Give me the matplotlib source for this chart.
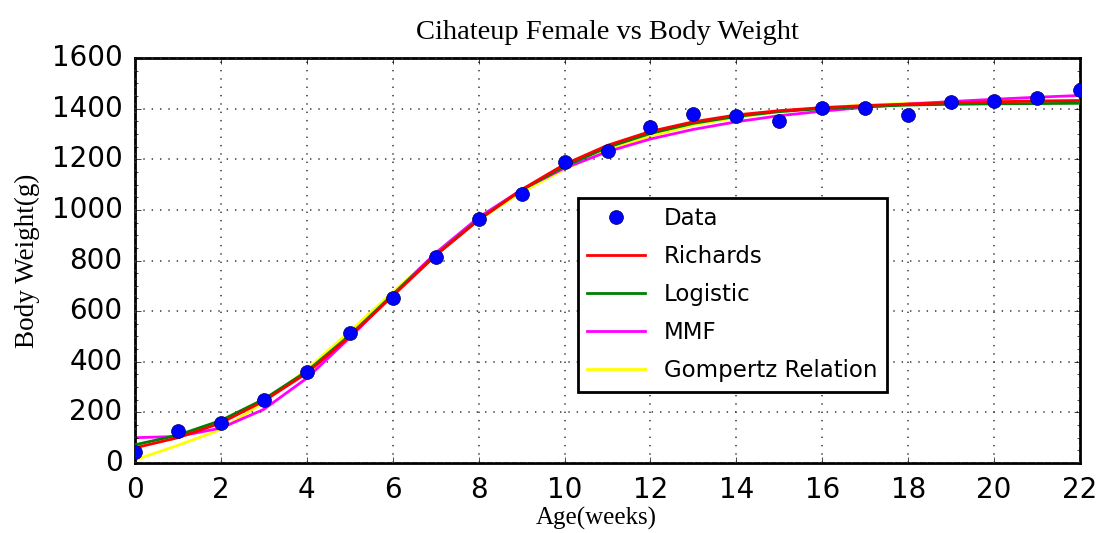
import matplotlib
matplotlib.use('Agg')
import matplotlib.pyplot as plt
from matplotlib.ticker import MultipleLocator

plt.style.use('classic')

# Data
weeks = list(range(0, 23))
weight = [45, 125, 158, 248, 358, 512, 650, 812, 962, 1062, 1188, 1232,
          1328, 1380, 1372, 1350, 1402, 1402, 1375, 1428, 1432, 1442, 1475]

# fitted curves, read at each week
richards = [60, 100, 158, 245, 355, 500, 660, 820, 960, 1080, 1180, 1255,
            1310, 1348, 1375, 1392, 1404, 1412, 1418, 1423, 1427, 1430, 1432]
logistic = [72, 110, 168, 252, 362, 505, 665, 822, 962, 1078, 1172, 1247,
            1302, 1342, 1369, 1388, 1400, 1408, 1414, 1417, 1419, 1420, 1421]
mmf = [100, 105, 138, 212, 335, 495, 665, 830, 970, 1080, 1165, 1230,
       1280, 1318, 1348, 1372, 1390, 1405, 1418, 1428, 1437, 1445, 1452]
gompertz = [12, 70, 132, 240, 370, 520, 675, 825, 960, 1070, 1160, 1235,
            1292, 1335, 1365, 1388, 1404, 1414, 1421, 1426, 1429, 1431, 1432]

fig = plt.figure(figsize=(10.99, 5.33), dpi=100, facecolor='white')
ax = fig.add_axes([0.1228, 0.1313, 0.86, 0.7599])

ax.plot(weeks, weight, 'o', color='blue', markeredgecolor='#000066',
        markersize=10, label='Data', zorder=5)
ax.plot(weeks, richards, color='red', lw=2, label='Richards', zorder=4)
ax.plot(weeks, logistic, color='green', lw=2, label='Logistic', zorder=3)
ax.plot(weeks, mmf, color='magenta', lw=2, label='MMF', zorder=2)
ax.plot(weeks, gompertz, color='yellow', lw=2, label='Gompertz Relation', zorder=1)

ax.set_xlim(0, 22)
ax.set_ylim(0, 1600)
ax.xaxis.set_major_locator(MultipleLocator(2))
ax.yaxis.set_major_locator(MultipleLocator(200))
ax.yaxis.set_minor_locator(MultipleLocator(50))
ax.tick_params(labelsize=20)
ax.tick_params(axis='x', pad=9)
ax.tick_params(axis='y', pad=9)
ax.grid(True, color='#444444', linewidth=1.2, dashes=(1, 5))
for s in ax.spines.values():
    s.set_linewidth(2)

ax.set_title('Cihateup Female vs Body Weight', fontsize=20.5,
             family='Liberation Serif', pad=14)
ax.set_xlabel('Age(weeks)', fontsize=18, family='Liberation Serif')
ax.xaxis.set_label_coords(0.488, -0.108)
ax.set_ylabel('Body Weight(g)', fontsize=19.5, family='Liberation Serif', labelpad=8)

leg = ax.legend(loc='upper left', bbox_to_anchor=(0.469, 0.655),
                borderaxespad=0, numpoints=1, fontsize=16.5, fancybox=False,
                borderpad=0.4, labelspacing=0.66, handlelength=2.5,
                handletextpad=0.85)
leg.get_frame().set_linewidth(2)
leg.get_frame().set_edgecolor('black')

plt.savefig('out.png', dpi=100, facecolor='white')
